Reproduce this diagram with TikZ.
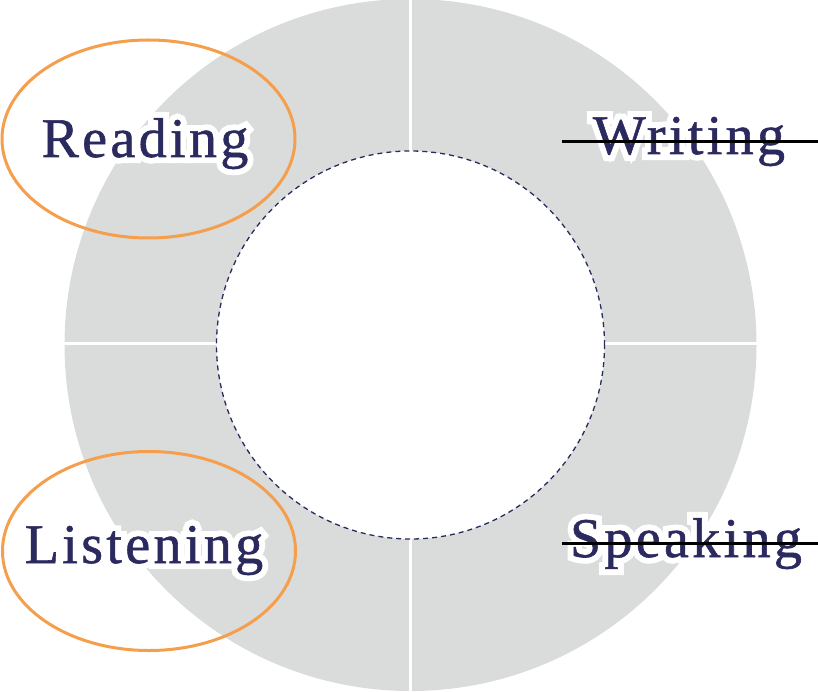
\documentclass[tikz,border=0pt]{standalone}
\usepackage{fontspec}
\setmainfont{Liberation Serif}[LetterSpace=6]
\usetikzlibrary{shapes.geometric}
\definecolor{ringgray}{HTML}{D9DCDB}
\definecolor{navy}{HTML}{2B2A5E}
\definecolor{orng}{HTML}{F59E4C}
\newcommand{\halotext}[1]{\addfontfeatures{FakeBold=22}\textcolor{white}{#1}}
\newcommand{\inktext}[1]{\addfontfeatures{FakeBold=1}\textcolor{navy}{#1}}
\begin{document}
\begin{tikzpicture}[x=1pt,y=-1pt,
  lbl/.style={anchor=base,font=\fontsize{56}{60}\selectfont,inner sep=0pt},
  hilite/.style={draw=orng,line width=3pt},
  strike/.style={draw=black,line width=3pt}]
\useasboundingbox (0,0) rectangle (818,692);
\begin{scope}
\clip (0,0) rectangle (818,692);
\fill[ringgray,even odd rule] (410.5,345) circle[radius=346] (410.5,345) circle[radius=194];
\end{scope}
\draw[white,line width=3pt] (410.5,0) -- (410.5,152);
\draw[white,line width=3pt] (410.5,538) -- (410.5,692);
\draw[white,line width=3pt] (60,343) -- (217,343);
\draw[white,line width=3pt] (604,343) -- (760,343);
\node[draw=navy,dashed,dash pattern=on 5pt off 4pt,line width=1.3pt,circle,minimum size=388pt,inner sep=0pt] (inner) at (410.5,345) {};
\node[lbl] (readingh) at (145,157) {\halotext{Reading}};
\node[lbl] (reading) at (145,157) {\inktext{Reading}};
\node[lbl] (writingh) at (689,154) {\halotext{Writing}};
\node[lbl] (writing) at (689,154) {\inktext{Writing}};
\node[lbl] (listeningh) at (144,563) {\halotext{Listening}};
\node[lbl] (listening) at (144,563) {\inktext{Listening}};
\node[lbl] (speakingh) at (686,557) {\halotext{Speaking}};
\node[lbl] (speaking) at (686,557) {\inktext{Speaking}};
\node[hilite,ellipse,minimum width=293pt,minimum height=198pt,inner sep=0pt] (e1) at (148.5,139) {};
\node[hilite,ellipse,minimum width=293pt,minimum height=199pt,inner sep=0pt] (e2) at (149,551) {};
\coordinate (w1) at (562,141.5);
\coordinate (w2) at (818,141.5);
\coordinate (s1) at (562,543.5);
\coordinate (s2) at (818,543.5);
\draw[strike] (w1) -- (w2);
\draw[strike] (s1) -- (s2);
\end{tikzpicture}
\end{document}
